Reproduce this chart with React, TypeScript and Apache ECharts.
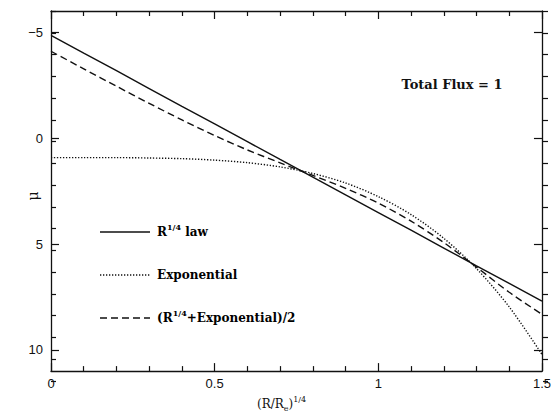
import React, { useEffect, useRef } from "react";
import * as echarts from "echarts";

// (R/Re)^(1/4)
const xValues = [0, 0.1, 0.2, 0.3, 0.4, 0.5, 0.6, 0.7, 0.8, 0.9, 1.0, 1.1, 1.2, 1.3, 1.4, 1.5];
// R^(1/4) law surface brightness
const r14Law = [-4.85, -4.01, -3.18, -2.34, -1.5, -0.67, 0.17, 1.01, 1.84, 2.68, 3.52, 4.35, 5.19, 6.03, 6.86, 7.7];
// Exponential profile
const exponential = [0.92, 0.92, 0.92, 0.94, 0.97, 1.04, 1.16, 1.36, 1.67, 2.12, 2.76, 3.61, 4.73, 6.16, 7.97, 10.21];
// (R^(1/4) + Exponential)/2
const average = [-4.1, -3.27, -2.45, -1.64, -0.86, -0.12, 0.56, 1.17, 1.76, 2.37, 3.07, 3.92, 4.93, 6.09, 7.28, 8.32];

const yMajorTicks = [-5, 0, 5, 10];
const xTickLabels = ["0", "0.5", "1", "1.5"];

const legendItems = [
  { text: "{m|R}{s|1/4}{m| law}", dash: null as number[] | null },
  { text: "{m|Exponential}", dash: [1.3, 1.7] },
  { text: "{m|(R}{s|1/4}{m|+Exponential)/2}", dash: [7, 4] },
];

const SERIF = "'DejaVu Serif', 'Liberation Serif', serif";
const SANS = "'Liberation Sans', Arial, sans-serif";
const BLACK = "#111";

const tick = () => ({ color: BLACK, width: 1.2 });
const axisLineOn = () => ({ show: true, onZero: false, lineStyle: { color: BLACK, width: 1.3 } });

export default function App() {
  const ref = useRef<HTMLDivElement>(null);
  useEffect(() => {
    if (!ref.current) return;
    const chart = echarts.init(ref.current, null, { renderer: "svg" });
    const richText = {
      m: { fontFamily: SERIF, fontWeight: "bold", fontSize: 12, color: BLACK, lineHeight: 18 },
      s: { fontFamily: SERIF, fontWeight: "bold", fontSize: 8, color: BLACK, lineHeight: 18, verticalAlign: "top" },
    };
    const yFmt = (v: number) => (v < 0 ? "\u2212" + Math.abs(v) : String(v));
    const gridBox = { left: 51, right: 6, top: 11, bottom: 36 };

    const legendGraphics: any[] = [];
    legendItems.forEach((it, i) => {
      const y = 232 + i * 43;
      legendGraphics.push({
        type: "line",
        shape: { x1: 100, y1: y, x2: 150, y2: y },
        style: { stroke: BLACK, lineWidth: 1.3, lineDash: it.dash || undefined },
      });
      legendGraphics.push({
        type: "text",
        x: 157,
        y: y,
        style: { text: it.text, rich: richText, verticalAlign: "middle", align: "left" },
      });
    });

    chart.setOption({
      animation: false,
      backgroundColor: "#fff",
      grid: [{ ...gridBox }, { ...gridBox }],
      xAxis: [
        {
          type: "value",
          gridIndex: 0,
          min: 0,
          max: 1.5,
          interval: 0.5,
          splitLine: { show: false },
          axisLine: axisLineOn(),
          axisTick: { show: true, inside: true, length: 8, lineStyle: tick() },
          minorTick: { show: true, splitNumber: 5, length: 5, lineStyle: tick() },
          axisLabel: {
            margin: 6,
            color: BLACK,
            fontFamily: SANS,
            fontSize: 13,
            formatter: (v: number) => xTickLabels[Math.round(v / 0.5)] ?? String(v),
          },
          name: "(R/R{sub|e}){sup|1/4}",
          nameLocation: "middle",
          nameGap: 16,
          nameTextStyle: {
            fontFamily: SERIF,
            fontSize: 12,
            color: BLACK,
            padding: [0, 30, 0, 0],
            rich: {
              sub: { fontFamily: SERIF, fontSize: 8, color: BLACK, verticalAlign: "bottom", lineHeight: 17 },
              sup: { fontFamily: SERIF, fontSize: 8, color: BLACK, verticalAlign: "top", lineHeight: 17 },
            },
          },
        },
        {
          type: "value",
          gridIndex: 0,
          min: 0,
          max: 1.5,
          interval: 0.5,
          splitLine: { show: false },
          axisLine: axisLineOn(),
          axisTick: { show: true, inside: true, length: 8, lineStyle: tick() },
          minorTick: { show: true, splitNumber: 5, length: 5, lineStyle: tick() },
          axisLabel: { show: false },
        },
        { type: "value", gridIndex: 1, min: 0, max: 1.5, show: false },
      ],
      yAxis: [
        {
          type: "value",
          gridIndex: 0,
          min: -6,
          max: 11,
          inverse: true,
          splitLine: { show: false },
          axisLine: axisLineOn(),
          axisTick: { show: true, inside: true, length: 8, customValues: yMajorTicks, lineStyle: tick() },
          axisLabel: {
            customValues: yMajorTicks,
            formatter: yFmt,
            margin: 8,
            color: BLACK,
            fontFamily: SANS,
            fontSize: 13,
          },
        },
        {
          type: "value",
          gridIndex: 0,
          min: -6,
          max: 11,
          inverse: true,
          splitLine: { show: false },
          axisLine: axisLineOn(),
          axisTick: { show: true, inside: true, length: 8, customValues: yMajorTicks, lineStyle: tick() },
          axisLabel: { show: false },
        },
        {
          type: "value",
          gridIndex: 1,
          min: -6,
          max: 11,
          interval: 1,
          inverse: true,
          splitLine: { show: false },
          axisLine: { show: false, onZero: false },
          axisTick: { show: true, inside: true, length: 5, lineStyle: tick() },
          axisLabel: { show: false },
        },
        {
          type: "value",
          gridIndex: 1,
          min: -6,
          max: 11,
          interval: 1,
          inverse: true,
          splitLine: { show: false },
          axisLine: { show: false, onZero: false },
          axisTick: { show: true, inside: true, length: 5, lineStyle: tick() },
          axisLabel: { show: false },
        },
      ],
      series: [
        {
          name: "R1/4 law",
          type: "line",
          xAxisIndex: 0,
          yAxisIndex: 0,
          showSymbol: false,
          symbol: "none",
          data: xValues.map((x, i) => [x, r14Law[i]]),
          lineStyle: { color: BLACK, width: 1.4, type: "solid" },
        },
        {
          name: "Exponential",
          type: "line",
          xAxisIndex: 0,
          yAxisIndex: 0,
          showSymbol: false,
          symbol: "none",
          smooth: 0.3,
          data: xValues.map((x, i) => [x, exponential[i]]),
          lineStyle: { color: BLACK, width: 1.4, type: [1.3, 1.7] },
        },
        {
          name: "(R1/4+Exponential)/2",
          type: "line",
          xAxisIndex: 0,
          yAxisIndex: 0,
          showSymbol: false,
          symbol: "none",
          smooth: 0.3,
          data: xValues.map((x, i) => [x, average[i]]),
          lineStyle: { color: BLACK, width: 1.4, type: [7, 4] },
        },
      ],
      graphic: [
        {
          type: "text",
          x: 33,
          y: 196,
          rotation: Math.PI / 2,
          style: {
            text: "\u03bc",
            fontFamily: SERIF,
            fontSize: 14,
            fill: BLACK,
            align: "center",
            verticalAlign: "middle",
          },
        },
        {
          type: "text",
          x: 452,
          y: 84,
          style: {
            text: "Total Flux = 1",
            fontFamily: SERIF,
            fontWeight: "bold",
            fontSize: 13,
            fill: BLACK,
            align: "center",
            verticalAlign: "middle",
          },
        },
        ...legendGraphics,
      ],
    });
    return () => chart.dispose();
  }, []);
  return (
    <div
      ref={ref}
      style={{ position: "absolute", left: 0, top: 0, width: 554, height: 417, background: "#fff" }}
    />
  );
}
